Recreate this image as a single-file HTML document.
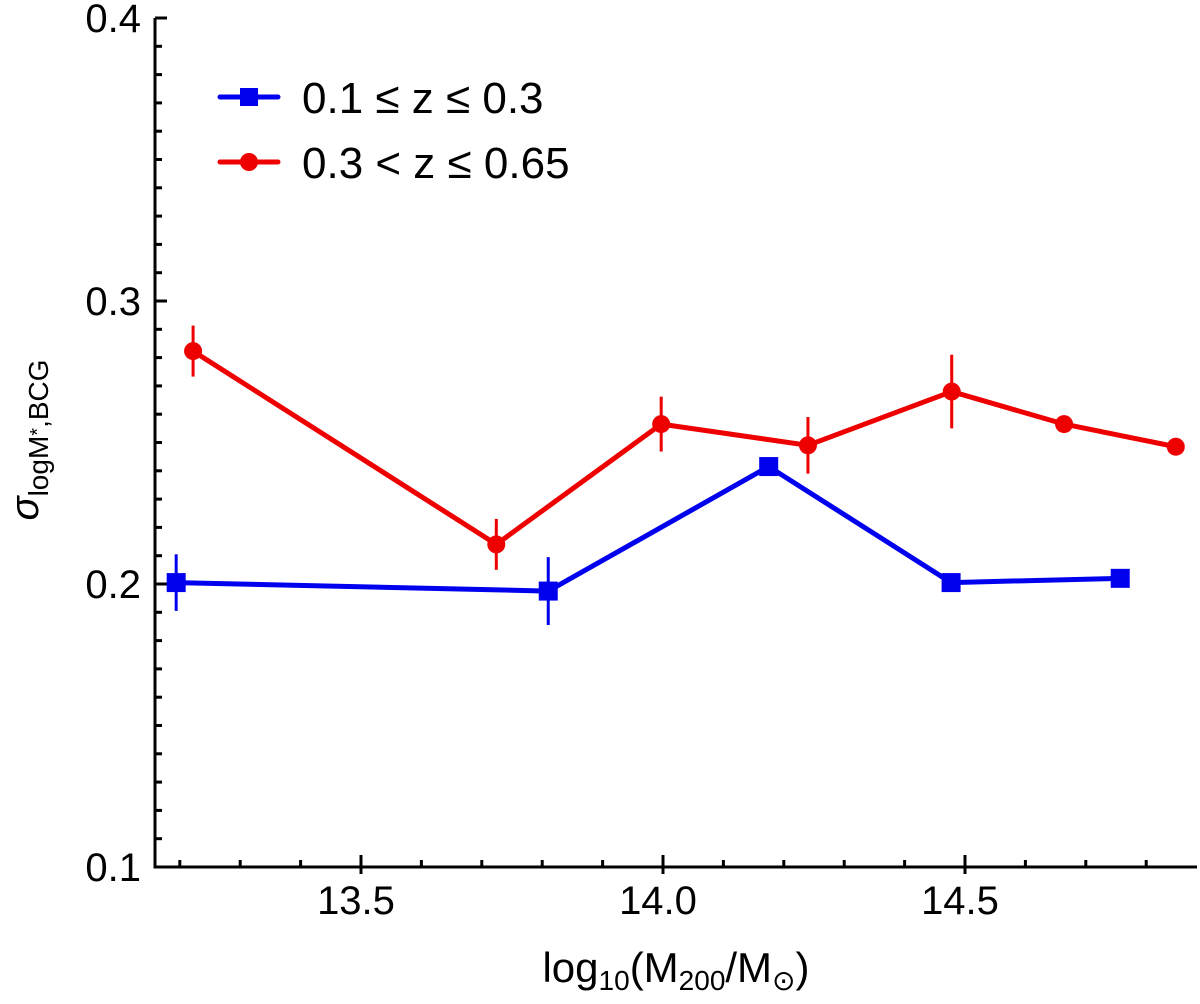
<!DOCTYPE html>
<html><head><meta charset="utf-8"><style>
body{margin:0;background:#fff}
svg{display:block;font-family:"Liberation Sans","DejaVu Sans",sans-serif}
</style></head><body>
<svg id="chart" width="1200" height="1004">
<g id="axes"></g>
<g id="series"></g>
<g>
 <g>
  <line x1="220" y1="97" x2="278" y2="97" stroke="#0000ee" stroke-width="5" stroke-linecap="round"/>
  <rect x="240" y="88" width="18" height="18" fill="#0000ee"/>
  <text x="302" y="113" font-size="44" fill="#000">0.1 ≤ z ≤ 0.3</text>
 </g>
 <g>
  <line x1="220" y1="162" x2="278" y2="162" stroke="#ee0000" stroke-width="5" stroke-linecap="round"/>
  <circle cx="249" cy="162" r="9" fill="#ee0000"/>
  <text x="302" y="178" font-size="44" fill="#000">0.3 &lt; z ≤ 0.65</text>
 </g>
</g>
<text x="676" y="982" font-size="42" text-anchor="middle">log<tspan font-size="28" dy="8">10</tspan><tspan dy="-8">(M</tspan><tspan font-size="28" dy="8">200</tspan><tspan dy="-8">/M</tspan><tspan font-size="28" dy="8">⊙</tspan><tspan dy="-8">)</tspan></text>
<text transform="translate(38,440) rotate(-90)" font-size="40" text-anchor="middle"><tspan font-style="italic">σ</tspan><tspan font-size="28" dy="10">logM</tspan><tspan font-size="20" dy="-4">*</tspan><tspan font-size="28" dy="4">,BCG</tspan></text>
</svg>
<script>
const blueX=[13.194,13.81,14.175,14.477,14.757];
const blueY=[0.2005,0.1975,0.2415,0.2005,0.202];
const blueErr=[0.010,0.012,0.002,0.002,0.002];
const redX=[13.222,13.724,13.997,14.24,14.478,14.664,14.849];
const redY=[0.2823,0.2140,0.2565,0.2490,0.2680,0.2565,0.2485];
const redErr=[0.009,0.009,0.0097,0.010,0.013,0.003,0.002];
const xTicks=[13.5,14.0,14.5];
const xTickLabels=["13.5","14.0","14.5"];
const yTicks=[0.1,0.2,0.3,0.4];
const yTickLabels=["0.1","0.2","0.3","0.4"];
const L=155,R=1197,T=18,B=867;
const xMin=13.5-(361-L)/604, xMax=13.5+(R-361)/604;
const sx=v=>L+(v-xMin)/(xMax-xMin)*(R-L);
const sy=v=>B-(v-0.1)/0.3*(B-T);
const NS="http://www.w3.org/2000/svg";
function mk(parent,tag,attrs){const e=document.createElementNS(NS,tag);for(const k in attrs)e.setAttribute(k,attrs[k]);parent.appendChild(e);return e;}
const ax=document.getElementById('axes');
let frame=mk(ax,'path',{d:`M${L} ${T} V${B} H${R}`,fill:'none',stroke:'#000','stroke-width':3});


for(let i=0;i<=30;i++){const v=0.1+i*0.01;const y=sy(v);const maj=i%10===0;
 mk(ax,'line',{x1:L,x2:L+(maj?12:7),y1:y,y2:y,stroke:'#000','stroke-width':3});}
yTicks.forEach((v,i)=>{const t=mk(ax,'text',{x:L-14,y:sy(v)+14,'font-size':40,'text-anchor':'end'});t.textContent=yTickLabels[i];
 
 });
for(let v=Math.ceil(xMin*10)/10;v<=xMax;v+=0.1){const x=sx(v);const maj=Math.abs(v*2-Math.round(v*2))<1e-6;
 mk(ax,'line',{x1:x,x2:x,y1:B,y2:B-(maj?12:7),stroke:'#000','stroke-width':3});
 if(maj) mk(ax,'line',{x1:x,x2:x,y1:B,y2:B+7,stroke:'#000','stroke-width':3});}
xTicks.forEach((v,i)=>{const t=mk(ax,'text',{x:sx(v)-5,y:B+47,'font-size':40,'text-anchor':'middle'});t.textContent=xTickLabels[i];
 
 });
const sg=document.getElementById('series');
function series(xs,ys,es,col,shape,name){
 const g=mk(sg,'g',{});
 
 
 mk(g,'polyline',{points:xs.map((x,i)=>sx(x)+','+sy(ys[i])).join(' '),fill:'none',stroke:col,'stroke-width':5,'stroke-linejoin':'round'});
 xs.forEach((x,i)=>{const cx=sx(x),cy=sy(ys[i]);
  const eb=mk(g,'line',{x1:cx,x2:cx,y1:sy(ys[i]+es[i]),y2:sy(ys[i]-es[i]),stroke:col,'stroke-width':3});
  
  
  let m;
  if(shape==='sq') m=mk(g,'rect',{x:cx-9.5,y:cy-9.5,width:19,height:19,fill:col});
  else m=mk(g,'circle',{cx:cx,cy:cy,r:9,fill:col});
  
  
 });
}
series(redX,redY,redErr,'#ee0000','ci','series-high-z');
series(blueX,blueY,blueErr,'#0000ee','sq','series-low-z');
</script>
</body></html>
